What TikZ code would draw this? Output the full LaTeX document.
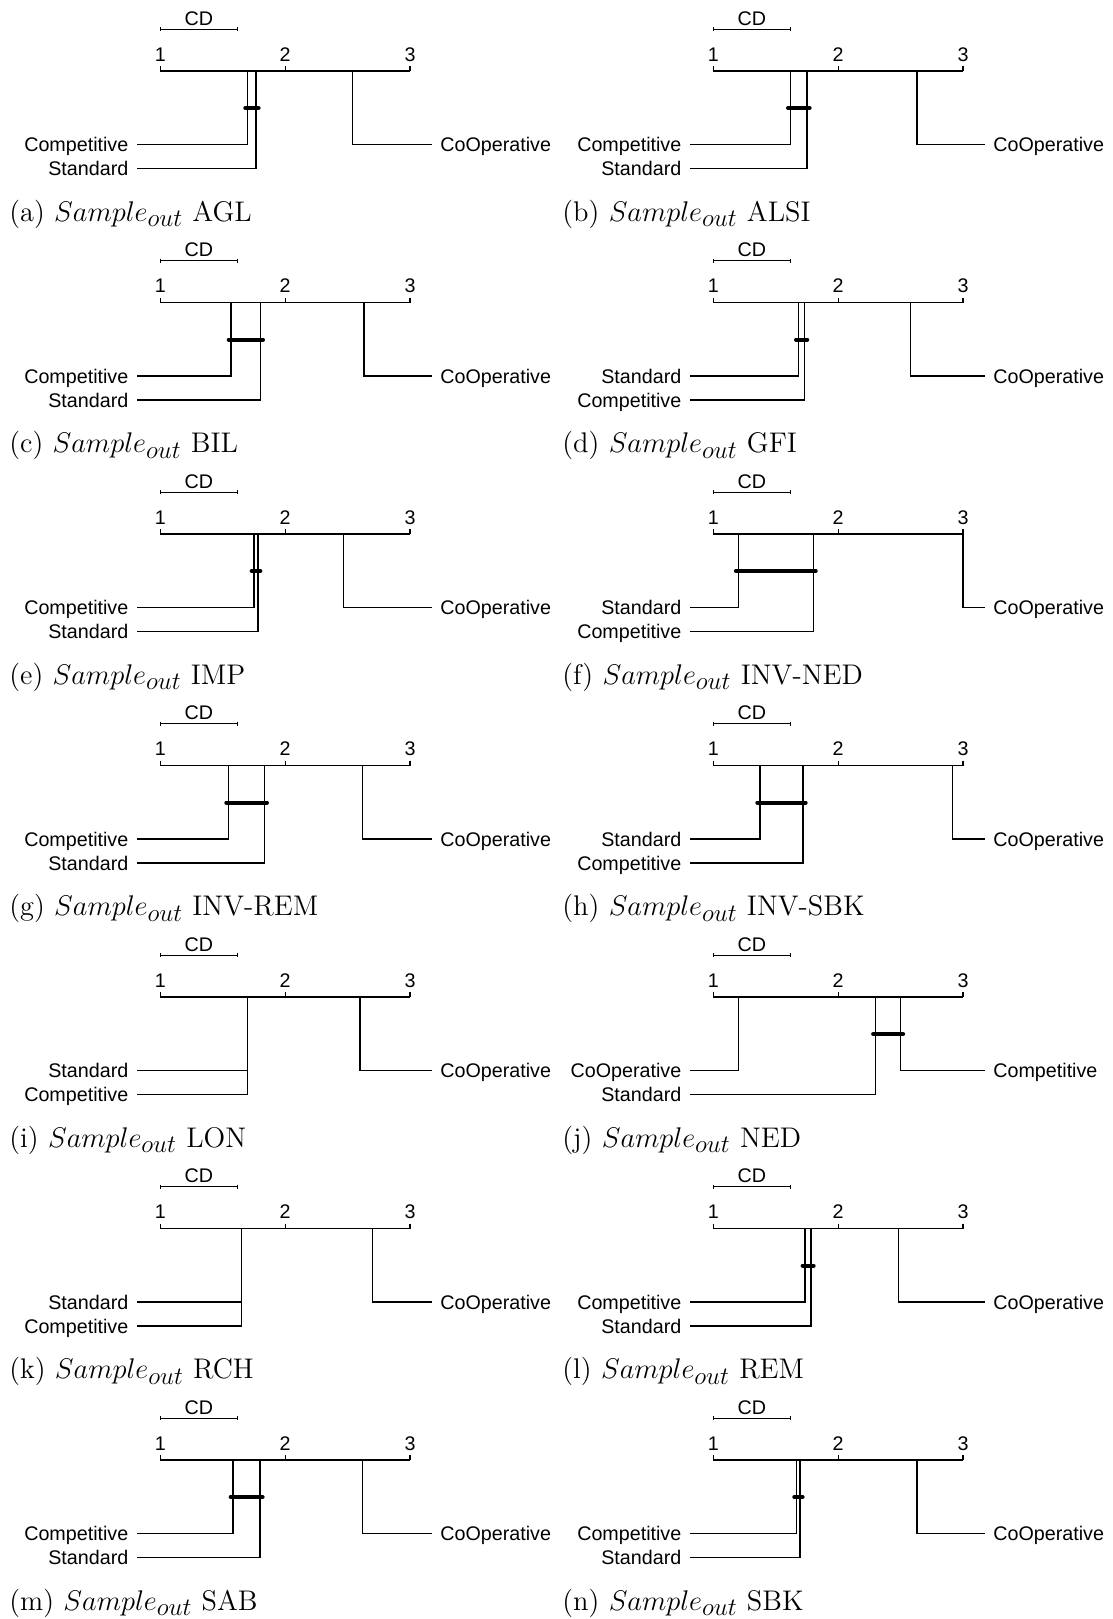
\RequirePackage{fix-cm}
\documentclass[tikz,border=0pt]{standalone}
\usepackage{fontspec}
\newfontfamily\lblfont{Liberation Sans}
\newcommand\lblsize{\lblfont\fontsize{9.85}{11}\selectfont}
\newcommand\capsize{\fontsize{14.2}{17}\selectfont}
\newcommand\smpl{$Sample_{\mbox{\fontsize{12.5}{15}\selectfont$out$}}$}
\tikzset{
  ax/.style={line width=0.7pt},
  ln/.style={line width=0.7pt},
  cdline/.style={line width=0.5pt},
  cdbarstyle/.style={line width=2pt, line cap=round},
  num/.style={font=\lblsize, inner sep=0pt, anchor=base},
  lab/.style={font=\lblsize, inner xsep=4pt, inner ysep=0pt, text height=7pt, text depth=0pt},
  capt/.style={font=\capsize, inner sep=0pt, anchor=base west},
}
% #1 id/letter, #2 caption name, #3 labA, #4 rA, #5 labB, #6 rB, #7 labR, #8 rR
\newcommand\cdpanel[8]{%
  \draw[ax] (0,0) -- (249.6,0);
  \draw[ax] (0,-5) -- (0,0);
  \draw[ax] (124.8,-5) -- (124.8,0);
  \draw[ax] (249.6,-5) -- (249.6,0);
  \node[num] (#1-t1) at (0,-10) {1};
  \node[num] (#1-t2) at (124.8,-10) {2};
  \node[num] (#1-t3) at (249.6,-10) {3};
  \draw[cdline] (0,-42) -- (77,-42);
  \draw[cdline] (0,-44) -- (0,-40);
  \draw[cdline] (77,-44) -- (77,-40);
  \node[num] (#1-cd) at (38.5,-46) {CD};
  \coordinate (#1-pA) at ({(#4-1)*124.8},0);
  \coordinate (#1-pB) at ({(#6-1)*124.8},0);
  \coordinate (#1-pR) at ({(#8-1)*124.8},0);
  \node[lab, anchor=east] (#1-A) at (-23.7,73.5) {#3};
  \node[lab, anchor=east] (#1-B) at (-23.7,97.5) {#5};
  \node[lab, anchor=west] (#1-R) at (271.6,73.5) {#7};
  \draw[ln] (#1-pA) |- (#1-A.east);
  \draw[ln] (#1-pB) |- (#1-B.east);
  \draw[ln] (#1-pR) |- (#1-R.west);
  \node[capt] (#1-cap) at (-151.4,150) {(#1) \smpl{} #2};
}
\newcommand\cdbar[2]{\draw[cdbarstyle] ({(#1-1)*124.8-2.5},37) -- ({(#2-1)*124.8+2.5},37);}
\begin{document}
\begin{tikzpicture}[x=0.5pt,y=-0.5pt]
\useasboundingbox (0,0) rectangle (1113,1619);
\fill[white] (0,0) rectangle (1113,1619);
% row 0
\begin{scope}[shift={(160.4,71)}]
\cdpanel{a}{AGL}{Competitive}{1.70}{Standard}{1.767}{CoOperative}{2.539}
\cdbar{1.70}{1.767}
\end{scope}
\begin{scope}[shift={(713.4,71)}]
\cdpanel{b}{ALSI}{Competitive}{1.618}{Standard}{1.751}{CoOperative}{2.632}
\cdbar{1.618}{1.751}
\end{scope}
% row 1
\begin{scope}[shift={(160.4,302.5)}]
\cdpanel{c}{BIL}{Competitive}{1.567}{Standard}{1.802}{CoOperative}{2.631}
\cdbar{1.567}{1.802}
\end{scope}
\begin{scope}[shift={(713.4,302.5)}]
\cdpanel{d}{GFI}{Standard}{1.682}{Competitive}{1.732}{CoOperative}{2.577}
\cdbar{1.682}{1.732}
\end{scope}
% row 2
\begin{scope}[shift={(160.4,534)}]
\cdpanel{e}{IMP}{Competitive}{1.751}{Standard}{1.781}{CoOperative}{2.465}
\cdbar{1.751}{1.781}
\end{scope}
\begin{scope}[shift={(713.4,534)}]
\cdpanel{f}{INV-NED}{Standard}{1.20}{Competitive}{1.80}{CoOperative}{3.0}
\cdbar{1.20}{1.80}
\end{scope}
% row 3
\begin{scope}[shift={(160.4,765.5)}]
\cdpanel{g}{INV-REM}{Competitive}{1.548}{Standard}{1.834}{CoOperative}{2.618}
\cdbar{1.548}{1.834}
\end{scope}
\begin{scope}[shift={(713.4,765.5)}]
\cdpanel{h}{INV-SBK}{Standard}{1.372}{Competitive}{1.719}{CoOperative}{2.917}
\cdbar{1.372}{1.719}
\end{scope}
% row 4
\begin{scope}[shift={(160.4,997)}]
\cdpanel{i}{LON}{Standard}{1.70}{Competitive}{1.70}{CoOperative}{2.60}
\end{scope}
\begin{scope}[shift={(713.4,997)}]
\cdpanel{j}{NED}{CoOperative}{1.20}{Standard}{2.30}{Competitive}{2.50}
\cdbar{2.30}{2.50}
\end{scope}
% row 5
\begin{scope}[shift={(160.4,1228.5)}]
\cdpanel{k}{RCH}{Standard}{1.65}{Competitive}{1.65}{CoOperative}{2.70}
\end{scope}
\begin{scope}[shift={(713.4,1228.5)}]
\cdpanel{l}{REM}{Competitive}{1.735}{Standard}{1.783}{CoOperative}{2.481}
\cdbar{1.735}{1.783}
\end{scope}
% row 6
\begin{scope}[shift={(160.4,1460)}]
\cdpanel{m}{SAB}{Competitive}{1.583}{Standard}{1.799}{CoOperative}{2.618}
\cdbar{1.583}{1.799}
\end{scope}
\begin{scope}[shift={(713.4,1460)}]
\cdpanel{n}{SBK}{Competitive}{1.668}{Standard}{1.695}{CoOperative}{2.630}
\cdbar{1.668}{1.695}
\end{scope}
\end{tikzpicture}
\end{document}
